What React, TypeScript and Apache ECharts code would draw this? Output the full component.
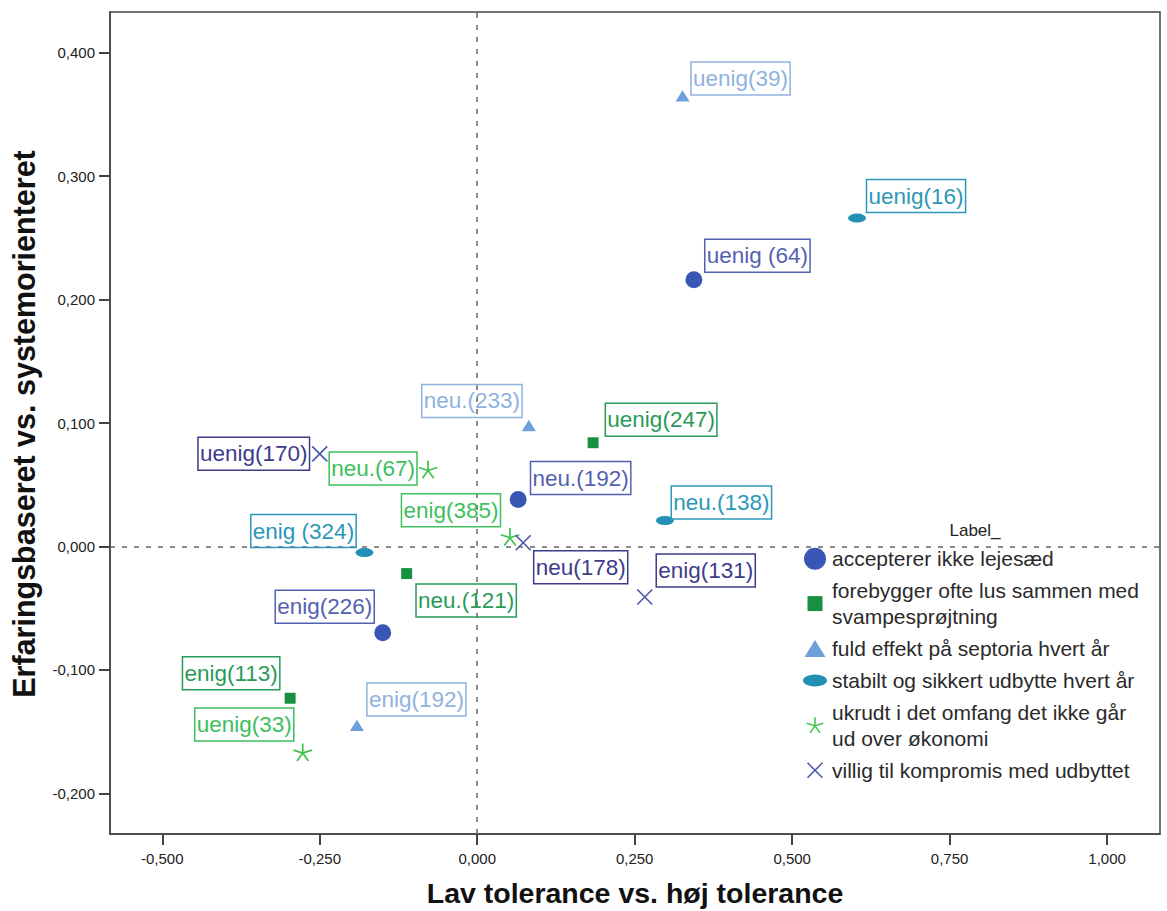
import React, { useEffect, useRef } from "react";
import * as echarts from "echarts";

// ---- data ----
const seriesNames = [
  "accepterer ikke lejesæd",
  "forebygger ofte lus sammen med\nsvampesprøjtning",
  "fuld effekt på septoria hvert år",
  "stabilt og sikkert udbytte hvert år",
  "ukrudt i det omfang det ikke går\nud over økonomi",
  "villig til kompromis med udbyttet",
];

const acceptererPts = [[0.344, 0.216], [0.065, 0.038], [-0.15, -0.07]];
const acceptererLabels = ["uenig (64)", "neu.(192)", "enig(226)"];

const forebyggerPts = [[0.184, 0.084], [-0.112, -0.022], [-0.297, -0.123]];
const forebyggerLabels = ["uenig(247)", "neu.(121)", "enig(113)"];

const septoriaPts = [[0.326, 0.365], [0.082, 0.098], [-0.191, -0.145]];
const septoriaLabels = ["uenig(39)", "neu.(233)", "enig(192)"];

const stabiltPts = [[0.603, 0.266], [0.298, 0.021], [-0.179, -0.005]];
const stabiltLabels = ["uenig(16)", "neu.(138)", "enig (324)"];

const ukrudtPts = [[-0.078, 0.062], [0.052, 0.0075], [-0.277, -0.167]];
const ukrudtLabels = ["neu.(67)", "enig(385)", "uenig(33)"];

const villigPts = [[-0.25, 0.075], [0.073, 0.003], [0.266, -0.041]];
const villigLabels = ["uenig(170)", "neu(178)", "enig(131)"];

const xTicks = [-0.5, -0.25, 0, 0.25, 0.5, 0.75, 1.0];
const yTicks = [-0.2, -0.1, 0, 0.1, 0.2, 0.3, 0.4];

// ---- styling (label offsets in px relative to marker) ----
const labelOffsets = [
  [[63.5, -24], [62.5, -21.5], [-58, -26]],
  [[68, -23], [59.5, 27], [-59, -25]],
  [[58, -17.5], [-57, -24.5], [59.5, -26]],
  [[59, -22], [56.5, -18], [-61, -21.5]],
  [[-55, -1.5], [-59, -27], [-58.5, -28]],
  [[-66, 0], [57.5, 24.5], [61, -26.5]],
];

const markerColors = ["#3a56b4", "#17913f", "#6fa0dc", "#2190b4", "#3cc44c", "#4a57a8"];
const labelColors = ["#5362b0", "#2a9a58", "#90b2e0", "#2c98b8", "#3cbf5c", "#3c3c8a"];

function spokes(cx: number, cy: number, R: number, w: number, angles: number[]) {
  let d = "M0,0M24,24";
  for (const a of angles) {
    const r = (a * Math.PI) / 180;
    const dx = Math.cos(r), dy = Math.sin(r);
    const px = -dy * w, py = dx * w;
    const pts = [
      [cx + px, cy + py],
      [cx + dx * R + px, cy + dy * R + py],
      [cx + dx * R - px, cy + dy * R - py],
      [cx - px, cy - py],
    ];
    d += "M" + pts.map((p) => p[0].toFixed(2) + "," + p[1].toFixed(2)).join("L") + "Z";
  }
  return d;
}

const PAD = "M0,0M24,24";
const symbols = [
  "path://" + PAD + "M1,12A11,11,0,1,1,23,12A11,11,0,1,1,1,12Z",
  "path://" + PAD + "M4.5,4.5L19.5,4.5L19.5,19.5L4.5,19.5Z",
  "path://" + PAD + "M12,3.5L22.5,20.5L1.5,20.5Z",
  "path://" + PAD + "M0,12A12,6,0,1,1,24,12A12,6,0,1,1,0,12Z",
  "path://" + spokes(12, 12.5, 8.6, 0.75, [-90, -18, 54, 126, 198]),
  "path://" + spokes(12, 12, 10.6, 0.8, [45, 135, 225, 315]),
];
const symbolSizes = [18.5, 17.5, 16, 18, 27, 24];

const allPts = [acceptererPts, forebyggerPts, septoriaPts, stabiltPts, ukrudtPts, villigPts];
const allLabels = [acceptererLabels, forebyggerLabels, septoriaLabels, stabiltLabels, ukrudtLabels, villigLabels];

const FONT = "Arial, 'Liberation Sans', sans-serif";
const fmt = (v: number) => v.toFixed(3).replace(".", ",").replace(/^-0,000$/, "0,000");

export default function App() {
  const ref = useRef<HTMLDivElement>(null);
  useEffect(() => {
    if (!ref.current) return;
    const chart = echarts.init(ref.current, null, { renderer: "svg" });
    const series: any[] = seriesNames.map((name, i) => ({
      type: "scatter",
      name,
      symbol: symbols[i],
      symbolSize: symbolSizes[i],
      itemStyle: { color: markerColors[i], opacity: 1 },
      data: allPts[i].map((p, j) => ({
        value: p,
        name: allLabels[i][j],
        label: { offset: labelOffsets[i][j] },
      })),
      label: {
        show: true,
        position: "inside",
        formatter: "{b}",
        color: labelColors[i],
        fontFamily: FONT,
        fontSize: 22.5,
        lineHeight: 26,
        borderColor: labelColors[i],
        borderWidth: 1.5,
        padding: [4, 2, 3, 2],
      },
      emphasis: { disabled: true },
      z: 3,
    }));
    series[0].markLine = {
      silent: true,
      symbol: "none",
      label: { show: false },
      lineStyle: { color: "#666", type: [5, 7], width: 1.5 },
      data: [{ xAxis: 0 }, { yAxis: 0 }],
      z: 1,
    };

    chart.setOption({
      animation: false,
      backgroundColor: "#ffffff",
      grid: {
        left: 110,
        right: 7,
        top: 12,
        bottom: 77,
        show: true,
        borderColor: "#444",
        borderWidth: 1.5,
        backgroundColor: "transparent",
      },
      xAxis: {
        type: "value",
        min: -0.583,
        max: 1.084,
        splitLine: { show: false },
        axisLine: { show: true, onZero: false, lineStyle: { color: "#444", width: 1.5 } },
        axisTick: { show: true, length: 11, customValues: xTicks, lineStyle: { color: "#444", width: 2 } },
        axisLabel: {
          customValues: xTicks,
          formatter: (v: number) => fmt(v),
          color: "#222",
          fontFamily: FONT,
          fontSize: 15,
          margin: 17,
        },
      },
      yAxis: {
        type: "value",
        min: -0.233,
        max: 0.433,
        splitLine: { show: false },
        axisLine: { show: true, onZero: false, lineStyle: { color: "#444", width: 1.5 } },
        axisTick: { show: true, length: 11, customValues: yTicks, lineStyle: { color: "#444", width: 2 } },
        axisLabel: {
          customValues: yTicks,
          formatter: (v: number) => fmt(v),
          color: "#222",
          fontFamily: FONT,
          fontSize: 15,
          margin: 15,
        },
      },
      legend: {
        orient: "vertical",
        left: 798,
        top: 541,
        itemGap: 6.6,
        itemWidth: 24,
        itemHeight: 24,
        selectedMode: false,
        data: seriesNames,
        textStyle: { color: "#2a2a2a", fontFamily: FONT, fontSize: 21, lineHeight: 25.5 },
      },
      graphic: [
        {
          type: "text",
          x: 975,
          y: 530,
          style: { text: "Label_", fill: "#222", font: `17px ${FONT}`, align: "center", verticalAlign: "middle" },
        },
        {
          type: "text",
          x: 635,
          y: 893,
          style: {
            text: "Lav tolerance vs. høj tolerance",
            fill: "#111",
            font: `bold 28.5px ${FONT}`,
            align: "center",
            verticalAlign: "middle",
          },
        },
        {
          type: "text",
          x: 24,
          y: 424,
          rotation: Math.PI / 2,
          style: {
            text: "Erfaringsbaseret vs. systemorienteret",
            fill: "#111",
            font: `bold 30.5px ${FONT}`,
            align: "center",
            verticalAlign: "middle",
          },
        },
      ],
      series,
    });
    return () => chart.dispose();
  }, []);
  return (
    <div
      ref={ref}
      style={{ position: "fixed", left: 0, top: 0, width: 1167, height: 911, background: "#fff" }}
    />
  );
}
